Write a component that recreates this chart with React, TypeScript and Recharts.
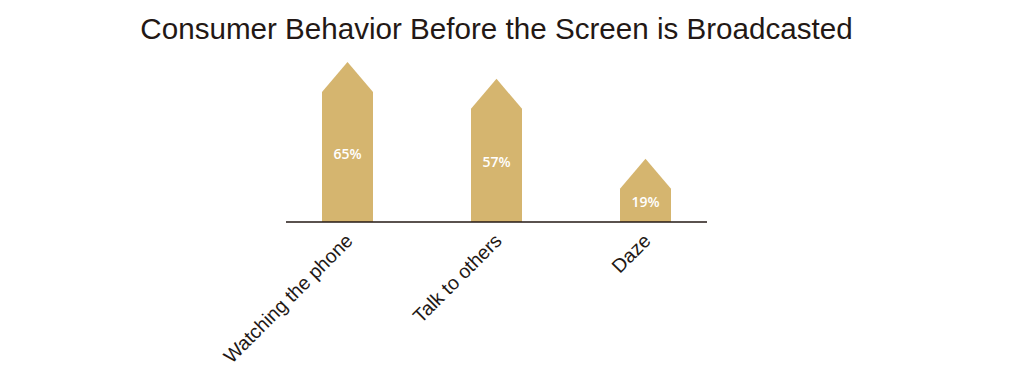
import { Bar, BarChart, XAxis, YAxis } from "recharts";

const categories = ["Watching the phone", "Talk to others", "Daze"];
const shares = [65, 57, 19];

const data = categories.map((name, i) => ({ name, value: shares[i] }));

const GOLD = "#D5B56F";
const INK = "#231815";
const CAP = 30;

function ArrowBar(props: any) {
    const { x, y, width, height, background, value } = props;
    const bottom = background ? background.y + background.height : y + height;
    const shoulder = y + CAP;
    const pts = [
        [x, shoulder],
        [x + width / 2, y],
        [x + width, shoulder],
        [x + width, bottom],
        [x, bottom],
    ]
        .map((p) => p.join(","))
        .join(" ");
    return (
        <g>
            <polygon points={pts} fill={GOLD} />
            <text
                x={x + width / 2}
                y={(shoulder + bottom) / 2 + 2}
                textAnchor="middle"
                fill="#fff"
                fontFamily="'Open Sans', sans-serif"
                fontWeight={600}
                fontSize={14}
            >
                {value}%
            </text>
        </g>
    );
}

function SlantTick({ x, y, payload }: any) {
    return (
        <g transform={`translate(${x + 6.5},${y + 20})`}>
            <text
                transform="rotate(-45)"
                textAnchor="end"
                fill={INK}
                fontFamily="'Liberation Sans', Arial, sans-serif"
                fontSize={19.5}
            >
                {payload.value}
            </text>
        </g>
    );
}

export default function App() {
    return (
        <div style={{ position: "absolute", left: 0, top: 0, width: 1030, height: 378, background: "#fff" }}>
            <div
                style={{
                    position: "absolute",
                    left: 0,
                    width: 993,
                    top: 14,
                    textAlign: "center",
                    fontFamily: "'Liberation Sans', Arial, sans-serif",
                    fontSize: 29.6,
                    lineHeight: "30px",
                    color: INK,
                }}
            >
                Consumer Behavior Before the Screen is Broadcasted
            </div>
            <BarChart
                width={1030}
                height={378}
                data={data}
                margin={{ top: 62, right: 323, bottom: 0, left: 286 }}
            >
                <XAxis
                    dataKey="name"
                    interval={0}
                    tickLine={false}
                    tickSize={0}
                    tickMargin={0}
                    padding={{ left: -13, right: -13 }}
                    stroke={INK}
                    axisLine={{ stroke: INK, strokeWidth: 1.3 }}
                    tick={<SlantTick />}
                    height={156}
                />
                <YAxis hide domain={[-11, 65]} />
                <Bar dataKey="value" barSize={51} shape={<ArrowBar />} isAnimationActive={false} />
            </BarChart>
        </div>
    );
}
